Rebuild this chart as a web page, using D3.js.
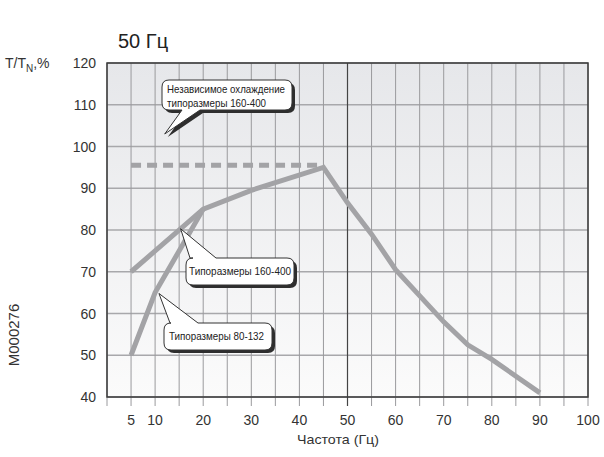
<!DOCTYPE html>
<html><head><meta charset="utf-8">
<script src="https://cdn.jsdelivr.net/npm/d3@7"></script>
<style>body{margin:0;background:#fff}svg{display:block}</style>
</head><body>
<script>
// ---- data ----
const seriesLarge = [ // Типоразмеры 160-400
  [5,70],[20,85],[30,89.5],[45,95],[50,86.5],[55,79],[60,70.5],[70,58],[75,52.5],[80,49],[90,41]
];
const seriesSmall = [ // Типоразмеры 80-132
  [5,50],[10,65],[20,85]
];
const seriesIndep = [ // Независимое охлаждение
  [5,95.5],[44,95.5]
];
const xTickLabels = [5,10,20,30,40,50,60,70,80,90,100];
const xGrid = d3.range(0,101,5);
const yTickLabels = [40,50,60,70,80,90,100,110,120];
const annotations = [
  {lines:["Независимое охлаждение","типоразмеры 160-400"], anchor:[12,103]},
  {lines:["Типоразмеры 160-400"], anchor:[15.3,80.3]},
  {lines:["Типоразмеры 80-132"], anchor:[10.8,64.8]}
];

const W=604,H=457;
const svg=d3.select("body").append("svg").attr("width",W).attr("height",H);
const x=d3.scaleLinear().domain([0,100]).range([107,588]);
const y=d3.scaleLinear().domain([40,120]).range([397,63]);

// background gradient
const defs=svg.append("defs");
const g=defs.append("linearGradient").attr("id","bg").attr("x1",0).attr("y1",0).attr("x2",0).attr("y2",1);
g.append("stop").attr("offset","0%").attr("stop-color","#e6e7ea");
g.append("stop").attr("offset","100%").attr("stop-color","#fbfbfb");
svg.append("rect").attr("x",x(0)).attr("y",y(120)).attr("width",x(100)-x(0)).attr("height",y(40)-y(120)).attr("fill","url(#bg)");

// grid
svg.append("g").selectAll("line").data(yTickLabels).join("line")
  .attr("x1",x(0)).attr("x2",x(100)).attr("y1",d=>y(d)).attr("y2",d=>y(d))
  .attr("stroke","#a8a8ab").attr("stroke-width",1.5);
svg.append("g").selectAll("line").data(xGrid).join("line")
  .attr("x1",d=>x(d)).attr("x2",d=>x(d)).attr("y1",y(120)).attr("y2",y(40)+9)
  .attr("stroke",d=>d===50?"#444":"#9a9a9d").attr("stroke-width",d=>d===50?1.2:1);

// border
svg.append("rect").attr("x",x(0)).attr("y",y(120)).attr("width",x(100)-x(0)).attr("height",y(40)-y(120))
  .attr("fill","none").attr("stroke","#3a3a3a").attr("stroke-width",1.5);

// axes labels
const txt="#333";
svg.append("g").selectAll("text").data(xTickLabels).join("text")
  .attr("x",d=>x(d)).attr("y",425).attr("text-anchor","middle")
  .attr("font-family","Liberation Sans, Arial, sans-serif").attr("font-size",14).attr("fill",txt).text(d=>d);
svg.append("g").selectAll("text").data(yTickLabels).join("text")
  .attr("x",96).attr("y",d=>y(d)+5).attr("text-anchor","end")
  .attr("font-family","Liberation Sans, Arial, sans-serif").attr("font-size",14).attr("fill",txt).text(d=>d);

// lines
const line=d3.line().x(d=>x(d[0])).y(d=>y(d[1]));
const lc="#a3a3a6";
svg.append("path").datum(seriesIndep).attr("d",line).attr("fill","none").attr("stroke",lc)
  .attr("stroke-width",5).attr("stroke-dasharray","10,6");
svg.append("path").datum(seriesSmall).attr("d",line).attr("fill","none").attr("stroke",lc).attr("stroke-width",5);
svg.append("path").datum(seriesLarge).attr("d",line).attr("fill","none").attr("stroke",lc).attr("stroke-width",5);

// callouts
function calloutPath(b,tail,r){
  const {x0,y0,x1,y1}=b; const [ta,tb]=tail.base; const [tx,ty]=tail.tip;
  let p=`M${x0+r},${y0}`;
  if(tail.side==="top") p+=`L${ta},${y0}L${tx},${ty}L${tb},${y0}`;
  p+=`L${x1-r},${y0}Q${x1},${y0} ${x1},${y0+r}L${x1},${y1-r}Q${x1},${y1} ${x1-r},${y1}`;
  if(tail.side==="bottom") p+=`L${tb},${y1}L${tx},${ty}L${ta},${y1}`;
  p+=`L${x0+r},${y1}Q${x0},${y1} ${x0},${y1-r}L${x0},${y0+r}Q${x0},${y0} ${x0+r},${y0}Z`;
  return p;
}
const boxes=[
  {b:{x0:162,y0:80,x1:292,y1:110},side:"bottom",base:[182,200],tl:[[167,93],[167,107]],w:[118,99]},
  {b:{x0:186,y0:258,x1:294,y1:285},side:"top",base:[190,216],tl:[[189,275]],w:[102]},
  {b:{x0:164,y0:323,x1:272,y1:350},side:"top",base:[170,198],tl:[[169,340]],w:[95]}
];
annotations.forEach((a,i)=>{
  const bx=boxes[i];
  const tip=[x(a.anchor[0]),y(a.anchor[1])];
  const d=calloutPath(bx.b,{side:bx.side,base:bx.base,tip},7);
  svg.append("path").attr("d",d).attr("transform","translate(3,3)").attr("fill","#2e2e2e");
  svg.append("path").attr("d",d).attr("fill","#fff").attr("stroke","#333").attr("stroke-width",1);
  a.lines.forEach((t,j)=>{
    svg.append("text").attr("x",bx.tl[j][0]).attr("y",bx.tl[j][1])
      .attr("font-family","Liberation Sans Narrow, Arial Narrow, Liberation Sans, Arial, sans-serif")
      .attr("font-size",11.5).attr("fill","#222")
      .attr("textLength",bx.w[j]).attr("lengthAdjust","spacingAndGlyphs").text(t);
  });
});

// titles
svg.append("text").attr("x",118).attr("y",48).attr("font-family","Liberation Sans, Arial, sans-serif")
  .attr("font-size",20).attr("fill","#222").text("50 Гц");
const yl=svg.append("text").attr("x",5).attr("y",68).attr("font-family","Liberation Sans, Arial, sans-serif")
  .attr("font-size",14).attr("fill",txt);
yl.append("tspan").text("T/T");
yl.append("tspan").attr("font-size",10).attr("dy",4).text("N");
yl.append("tspan").attr("dy",-4).text(",%");
svg.append("text").attr("x",338).attr("y",444).attr("text-anchor","middle")
  .attr("font-family","Liberation Sans Narrow, Arial Narrow, Liberation Sans, Arial, sans-serif")
  .attr("font-size",13.5).attr("fill",txt).attr("textLength",82).attr("lengthAdjust","spacingAndGlyphs").text("Частота (Гц)");
svg.append("text").attr("transform","translate(19,335) rotate(-90)").attr("text-anchor","middle")
  .attr("font-family","Liberation Sans, Arial, sans-serif").attr("font-size",15).attr("fill",txt).text("M000276");
</script>
</body></html>
